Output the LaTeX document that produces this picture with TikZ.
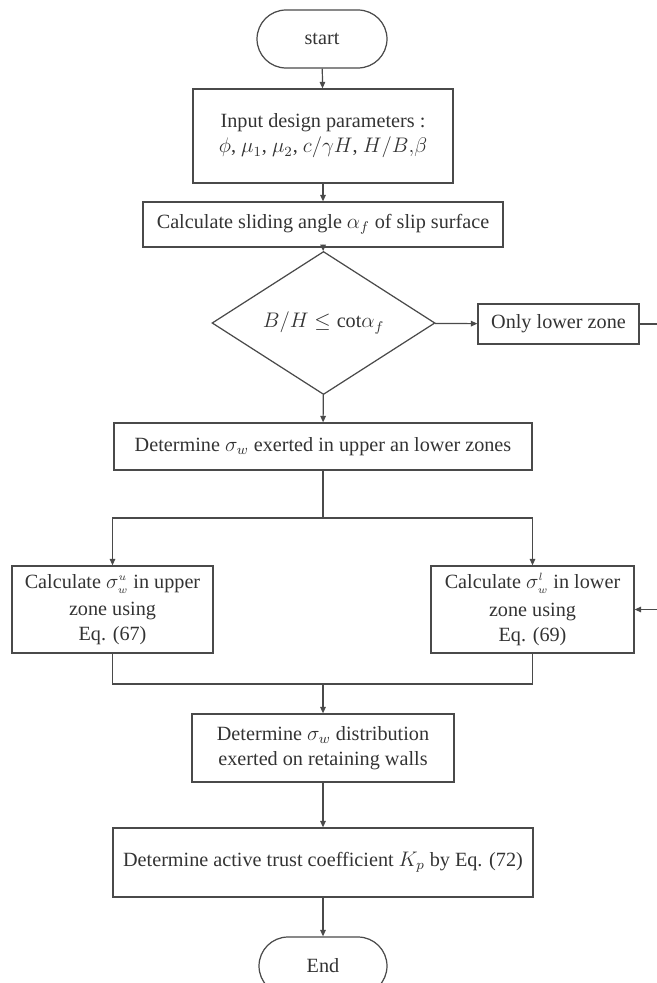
\documentclass[tikz,border=0pt]{standalone}
\usepackage{fontspec}
\setmainfont{Liberation Serif}
\usetikzlibrary{arrows.meta,shapes.geometric,positioning}
\definecolor{FlowInk}{HTML}{333333}
\definecolor{FlowLine}{HTML}{4A4A4A}
\newcommand{\sigw}[1]{\sigma_{\scriptscriptstyle w}^{\scriptscriptstyle #1}}
\tikzset{
  every node/.style={font=\fontsize{11.5}{14.2}\selectfont, text=FlowInk},
  box/.style={draw=FlowLine, line width=0.7pt, align=center, inner sep=0pt},
  terminal/.style={box, rounded corners=0.58cm, minimum width=2.6cm, minimum height=1.16cm},
  decision/.style={box, diamond, minimum width=4.46cm, minimum height=1.72cm},
  link/.style={draw=FlowLine, line width=0.7pt},
  flow/.style={link, -{Triangle[length=1.3mm,width=1.1mm]}},
}
\begin{document}
\begin{tikzpicture}[x=0.02cm,y=-0.02cm]
  \useasboundingbox (0,0) rectangle (656,983);
  % main column
  \node[terminal] (start) at (322,39) {start};
  \node[box, minimum width=5.2cm, minimum height=1.88cm] (input) at (323,136)
    {Input design parameters :\\$\phi$, $\mu_1$, $\mu_2$, $c/\gamma H$, $H/B{,}\beta$};
  \node[box, minimum width=7.2cm, minimum height=0.9cm] (calc) at (323,224.5)
    {Calculate sliding angle $\alpha_f$ of slip surface};
  \node[decision] (check) at (323.5,323) {$B/H \leq \mathrm{cot}\alpha_f$};
  \node[box, minimum width=3.22cm, minimum height=0.8cm] (only) at (558.5,324) {Only lower zone};
  \node[box, minimum width=8.36cm, minimum height=0.94cm] (zones) at (323,446.5)
    {Determine $\sigma_w$ exerted in upper an lower zones};
  % two branches
  \node[box, minimum width=4.02cm, minimum height=1.74cm] (upper) at (112.5,609.5)
    {Calculate $\sigw{u}$ in upper\\[1.5pt]zone using\\Eq. (67)};
  \node[box, minimum width=4.06cm, minimum height=1.74cm] (lower) at (532.5,609.5)
    {Calculate $\sigw{l}$ in lower\\[1.5pt]zone using\\Eq. (69)};
  \node[box, minimum width=5.24cm, minimum height=1.36cm] (dist) at (323,748)
    {Determine $\sigma_w$ distribution\\exerted on retaining walls};
  \node[box, minimum width=8.4cm, minimum height=1.38cm] (coef) at (323,862.5)
    {Determine active trust coefficient $K_p$ by Eq. (72)};
  \node[terminal, minimum width=2.56cm] (end) at (323,966) {End};
  \coordinate (split) at (323,518);
  \coordinate (merge) at (323,684);
  \coordinate (side) at (662,324);
  % connectors
  \draw[flow] (start) -- (input);
  \draw[flow] (input) -- (calc);
  \draw[flow] (calc) -- (check);
  \draw[flow] (check) -- (only);
  \draw[flow] (check) -- (zones);
  \draw[link] (zones) -- (split);
  \draw[flow] (split) -| (upper.north);
  \draw[flow] (split) -| (lower.north);
  \draw[link] (upper.south) |- (merge);
  \draw[link] (lower.south) |- (merge);
  \draw[flow] (merge) -- (dist);
  \draw[flow] (dist) -- (coef);
  \draw[flow] (coef) -- (end);
  \draw[flow] (only.east) -- (side) |- (lower.east);
\end{tikzpicture}
\end{document}
